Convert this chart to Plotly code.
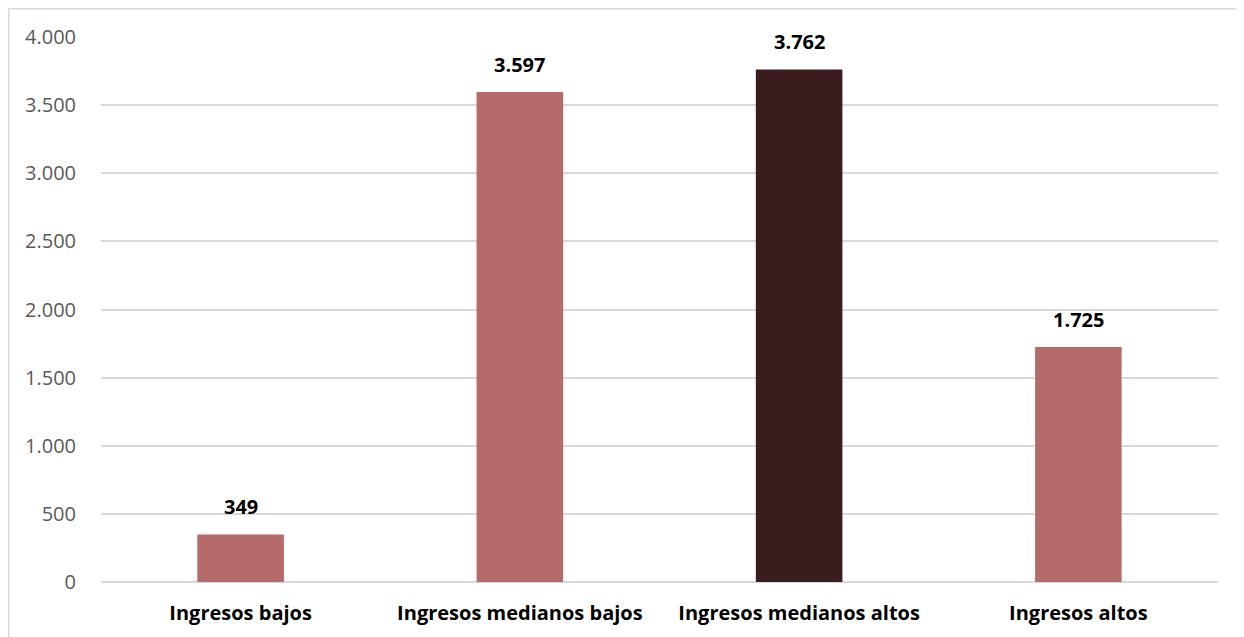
import plotly.graph_objects as go

categories = ["Ingresos bajos", "Ingresos medianos bajos", "Ingresos medianos altos", "Ingresos altos"]
values = [349, 3597, 3762, 1725]
colors = ["#b46b6a", "#b46b6a", "#3a1c1e", "#b46b6a"]
y_ticks = [0, 500, 1000, 1500, 2000, 2500, 3000, 3500, 4000]

def fmt(v):
    return f"{v:,}".replace(",", ".")

fig = go.Figure()
fig.add_trace(go.Bar(
    x=categories, y=values, marker=dict(color=colors, line=dict(width=0)),
    hoverinfo="skip",
))

# page has an 8px body offset; margins compensate for it
W, H = 1244, 637
ml, mr, mt, mb = 93, 34, 29, 63
pw, ph = W - ml - mr, H - mt - mb

annotations = [
    dict(x=c, y=v, text=fmt(v), showarrow=False, yanchor="bottom", yshift=12,
         font=dict(family="Open Sans", size=20, color="#000000", weight="bold"))
    for c, v in zip(categories, values)
]

fig.update_layout(
    width=W, height=H,
    margin=dict(l=ml, r=mr, t=mt, b=mb),
    paper_bgcolor="white", plot_bgcolor="white",
    separators=",.",
    bargap=0.69,
    showlegend=False,
    annotations=annotations,
    xaxis=dict(
        showgrid=False, showline=False, zeroline=False,
        tickfont=dict(family="Open Sans", size=20, color="#000000", weight="bold"),
        ticks="outside", ticklen=13, tickcolor="rgba(0,0,0,0)",
    ),
    yaxis=dict(
        range=[0, 4000], tickvals=y_ticks, tickformat=",d",
        showgrid=True, gridcolor="#d9d9d9", gridwidth=1.5,
        zeroline=True, zerolinecolor="#d9d9d9", zerolinewidth=1.5,
        showline=False,
        tickfont=dict(family="Open Sans", size=20, color="#595959"),
        ticks="outside", ticklen=20, tickcolor="rgba(0,0,0,0)",
    ),
    shapes=[dict(
        type="rect", xref="paper", yref="paper",
        x0=(0.8 - ml) / pw, x1=(W + 20 - ml) / pw,
        y0=-(H + 20 - mt - ph) / ph, y1=(H - 0.8 - mb) / ph,
        line=dict(color="#d9d9d9", width=1.5), layer="below",
    )],
)

fig.write_html("out.html")
